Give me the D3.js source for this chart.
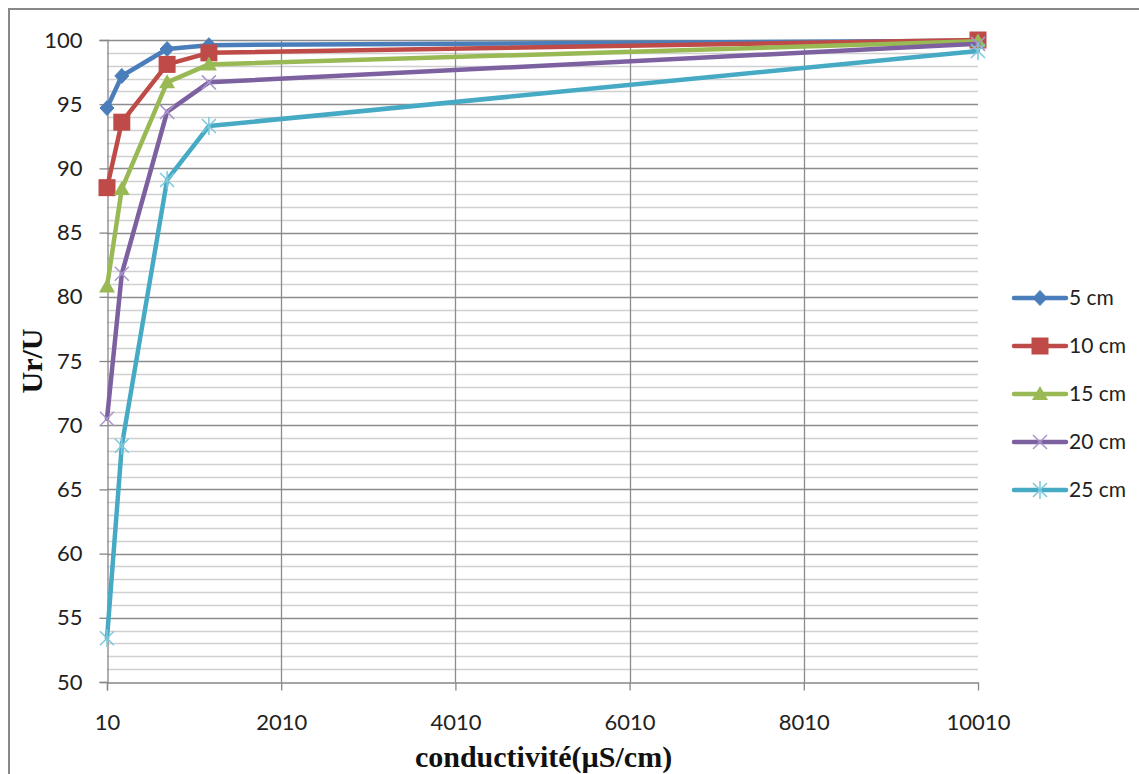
<!DOCTYPE html>
<html>
<head>
<meta charset="utf-8">
<script src="https://cdn.jsdelivr.net/npm/d3@7"></script>
<style>
  html, body { margin: 0; padding: 0; background: #ffffff; }
  svg { display: block; }
</style>
</head>
<body>
<script>
// ---- data ----
const conductivity = [10, 180, 700, 1180, 10010];
const seriesNames = ["5 cm", "10 cm", "15 cm", "20 cm", "25 cm"];
const s5cm  = [94.7, 97.2, 99.3, 99.6, 99.95];
const s10cm = [88.5, 93.6, 98.1, 99.0, 100.0];
const s15cm = [80.8, 88.4, 96.7, 98.1, 99.9];
const s20cm = [70.5, 81.8, 94.4, 96.7, 99.7];
const s25cm = [53.4, 68.4, 89.1, 93.3, 99.15];
const xTickValues = [10, 2010, 4010, 6010, 8010, 10010];
const yTickValues = [50, 55, 60, 65, 70, 75, 80, 85, 90, 95, 100];
const xTitle = "conductivité(µS/cm)";
const yTitle = "Ur/U";

const seriesValues = [s5cm, s10cm, s15cm, s20cm, s25cm];
const lineColors = ["#4a7ebb", "#be4b48", "#98b954", "#7d60a0", "#46aac5"];
const markerColors = ["#4a7ebb", "#be4b48", "#98b954", "#a996cc", "#7cc8dc"];
const markerTypes = ["diamond", "square", "triangle", "x", "star"];

const W = 1139, H = 774;
const svg = d3.select("body").append("svg").attr("width", W).attr("height", H);

// outer chart border
svg.append("rect").attr("x", 9).attr("y", 9).attr("width", W + 20).attr("height", H + 20)
  .attr("fill", "#fff").attr("stroke", "#888").attr("stroke-width", 2);

const x = d3.scaleLinear().domain([10, 10010]).range([107, 978]);
const y = d3.scaleLinear().domain([50, 100]).range([682, 40]);

const g = svg.append("g");

// minor horizontal gridlines
const minor = d3.range(50, 101, 1).filter(v => v % 5 !== 0);
g.selectAll(".minor").data(minor).enter().append("line")
  .attr("x1", x(10)).attr("x2", x(10010))
  .attr("y1", d => Math.round(y(d)) + 0.5).attr("y2", d => Math.round(y(d)) + 0.5)
  .attr("stroke", "#d0d0d0").attr("stroke-width", 1.3);

// major horizontal gridlines
g.selectAll(".major").data(yTickValues.filter(v => v > 50)).enter().append("line")
  .attr("x1", x(10)).attr("x2", x(10010))
  .attr("y1", d => Math.round(y(d)) + 0.5).attr("y2", d => Math.round(y(d)) + 0.5)
  .attr("stroke", "#8c8c8c").attr("stroke-width", 1.3);

// vertical gridlines
g.selectAll(".vgrid").data(xTickValues.filter(v => v > 10 && v < 10010)).enter().append("line")
  .attr("x1", d => Math.round(x(d)) + 0.5).attr("x2", d => Math.round(x(d)) + 0.5)
  .attr("y1", y(100)).attr("y2", y(50))
  .attr("stroke", "#8c8c8c").attr("stroke-width", 1.3);

// axes
const yAxis = d3.axisLeft(y).tickValues(yTickValues).tickSize(8).tickPadding(17).tickFormat(d3.format("d"));
const xAxis = d3.axisBottom(x).tickValues(xTickValues).tickSize(8).tickPadding(24).tickFormat(d3.format("d"));

const yG = svg.append("g").attr("transform", `translate(${Math.round(x(10)) + 0.5},0)`).call(yAxis);
const xG = svg.append("g").attr("transform", `translate(0,${Math.round(y(50)) + 0.5})`).call(xAxis);
[yG, xG].forEach(a => {
  a.select(".domain").attr("stroke", "#868686").attr("stroke-width", 1.3);
  a.selectAll(".tick line").attr("stroke", "#868686").attr("stroke-width", 1.3);
  a.selectAll(".tick text").attr("fill", "#222").style("font-family", "Lato, 'Open Sans', sans-serif").style("font-size", "22px");
});
xG.selectAll(".tick").filter(d => d === 10010).select("line").remove();

// marker drawing
function drawMarker(sel, type, color) {
  if (type === "diamond") {
    sel.append("path").attr("d", "M0,-7.5L7,0L0,7.5L-7,0Z").attr("fill", color).attr("stroke", color).attr("stroke-width", 1);
  } else if (type === "square") {
    sel.append("rect").attr("x", -8.5).attr("y", -8.5).attr("width", 17).attr("height", 17).attr("fill", color);
  } else if (type === "triangle") {
    sel.append("path").attr("d", "M0,-8L8,6L-8,6Z").attr("fill", color);
  } else if (type === "x") {
    sel.append("path").attr("d", "M-7,-7L7,7M-7,7L7,-7").attr("stroke", color).attr("stroke-width", 1.5).attr("fill", "none");
  } else if (type === "star") {
    sel.append("path").attr("d", "M-7,-7L7,7M-7,7L7,-7M0,-9L0,9").attr("stroke", color).attr("stroke-width", 1.5).attr("fill", "none");
  }
}

const line = d3.line().x((d, i) => x(conductivity[i])).y(d => y(d));

seriesValues.forEach((vals, si) => {
  const sg = svg.append("g");
  sg.append("path").datum(vals).attr("d", line)
    .attr("fill", "none").attr("stroke", lineColors[si]).attr("stroke-width", 4.5)
    .attr("stroke-linejoin", "round").attr("stroke-linecap", "round");
  vals.forEach((v, i) => {
    const m = sg.append("g").attr("transform", `translate(${x(conductivity[i])},${y(v)})`);
    drawMarker(m, markerTypes[si], markerColors[si]);
  });
});

// legend
const legend = svg.append("g");
const legY = d3.scalePoint().domain(seriesNames).range([298, 490]);
seriesNames.forEach((name, si) => {
  const ly = legY(name);
  legend.append("line").attr("x1", 1014).attr("x2", 1066).attr("y1", ly).attr("y2", ly)
    .attr("stroke", lineColors[si]).attr("stroke-width", 4.5).attr("stroke-linecap", "round");
  const m = legend.append("g").attr("transform", `translate(1040,${ly})`);
  drawMarker(m, markerTypes[si], markerColors[si]);
  legend.append("text").attr("x", 1069).attr("y", ly).attr("dy", "0.35em")
    .style("font-family", "Lato, 'Open Sans', sans-serif").style("font-size", "21px").attr("fill", "#222")
    .text(name);
});

// axis titles
svg.append("text").attr("x", (x(10) + x(10010)) / 2 + 1).attr("y", 767)
  .attr("text-anchor", "middle")
  .style("font-family", "'Liberation Serif', 'Times New Roman', serif").style("font-weight", "bold").style("font-size", "30px")
  .attr("fill", "#111").text(xTitle);

svg.append("text").attr("transform", `translate(42,${(y(50) + y(100)) / 2}) rotate(-90)`)
  .attr("text-anchor", "middle")
  .style("font-family", "'Liberation Serif', 'Times New Roman', serif").style("font-weight", "bold").style("font-size", "30px")
  .attr("fill", "#111").text(yTitle);
</script>
</body>
</html>
